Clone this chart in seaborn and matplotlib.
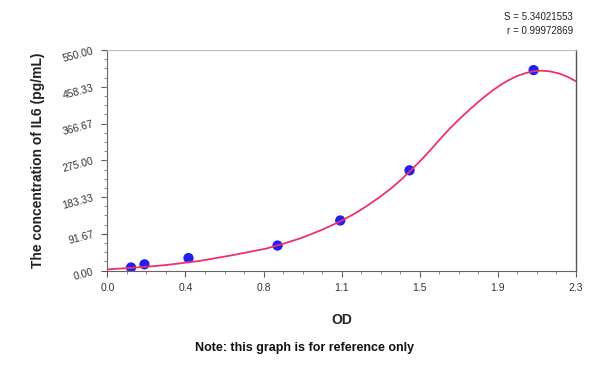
import matplotlib
matplotlib.use("Agg")
import matplotlib.pyplot as plt
from matplotlib.ticker import AutoMinorLocator
import seaborn as sns

# standard points (OD vs concentration)
std_od = [0.116, 0.182, 0.398, 0.835, 1.143, 1.483, 2.092]
std_conc = [7.8, 15.6, 31.25, 62.5, 125.0, 250.0, 500.0]

# fitted curve
curve_od = [0.00, 0.06, 0.12, 0.20, 0.29, 0.37, 0.45, 0.53, 0.62, 0.70, 0.78,
            0.87, 0.95, 1.05, 1.14, 1.21, 1.27, 1.33, 1.39, 1.44, 1.49, 1.55,
            1.60, 1.64, 1.68, 1.73, 1.77, 1.81, 1.85, 1.89, 1.93, 1.97, 2.01,
            2.05, 2.09, 2.13, 2.17, 2.22, 2.26, 2.30]
curve_conc = [3, 5, 7, 10, 14, 19, 24, 31, 39, 47, 55,
              68, 81, 101, 122, 141, 160, 181, 204, 226, 250, 281,
              309, 332, 354, 379, 398, 416, 433, 449, 463, 475, 485,
              492, 497, 498.5, 497, 491, 483, 472]

x_ticks = [0.0, 0.3833, 0.7667, 1.15, 1.5333, 1.9167, 2.3]
x_tick_labels = ["0.0", "0.4", "0.8", "1.1", "1.5", "1.9", "2.3"]
y_ticks = [0.0, 91.67, 183.33, 275.0, 366.67, 458.33, 550.0]
y_tick_labels = ["0.00", "91.67", "183.33", "275.00", "366.67", "458.33", "550.00"]

sns.set_theme(style="ticks")
plt.rcParams['font.family'] = ['Liberation Sans', 'DejaVu Sans']

fig = plt.figure(figsize=(6, 3.79), dpi=100)
ax = fig.add_axes([0.179, 0.286, 0.781, 0.582])

sns.scatterplot(x=std_od, y=std_conc, ax=ax, color="#1f1ff0", s=55,
                edgecolor="none", zorder=2)
sns.lineplot(x=curve_od, y=curve_conc, ax=ax, color="#f0306a", linewidth=1.3,
             sort=False, estimator=None, zorder=3)

ax.set_xlim(0, 2.3)
ax.set_ylim(0, 550)
ax.set_xticks(x_ticks)
ax.set_xticklabels(x_tick_labels, fontsize=7.5, color="#333333")
ax.set_yticks(y_ticks)
ax.set_yticklabels(y_tick_labels, fontsize=7.5, color="#333333", rotation=15)
ax.xaxis.set_minor_locator(AutoMinorLocator(4))
ax.yaxis.set_minor_locator(AutoMinorLocator(4))
ax.tick_params(which="major", length=4, width=0.8, color="#555555", direction="out", pad=5)
ax.tick_params(which="minor", length=2.5, width=0.6, color="#777777", direction="out")

for side in ["left", "bottom"]:
    ax.spines[side].set_color("#666666")
    ax.spines[side].set_linewidth(0.8)
ax.spines["top"].set_color("#bbbbbb")
ax.spines["top"].set_linewidth(0.8)
ax.spines["right"].set_color("#555555")
ax.spines["right"].set_linewidth(1.0)
ax.spines["top"].set_visible(True)
ax.spines["right"].set_visible(True)

ax.set_xlabel("OD", fontsize=10, fontweight="bold", color="#222222", labelpad=14)
ax.set_ylabel("The concentration of IL6 (pg/mL)", fontsize=10, fontweight="bold",
              color="#222222", labelpad=12)

fig.text(0.955, 0.955, "S = 5.34021553", ha="right", va="center", fontsize=7, color="#222222")
fig.text(0.955, 0.918, "r = 0.99972869", ha="right", va="center", fontsize=7, color="#222222")
fig.text(0.508, 0.082, "Note: this graph is for reference only", ha="center", va="center",
         fontsize=9, fontweight="bold", color="#111111")

fig.savefig("out.png", dpi=100)
